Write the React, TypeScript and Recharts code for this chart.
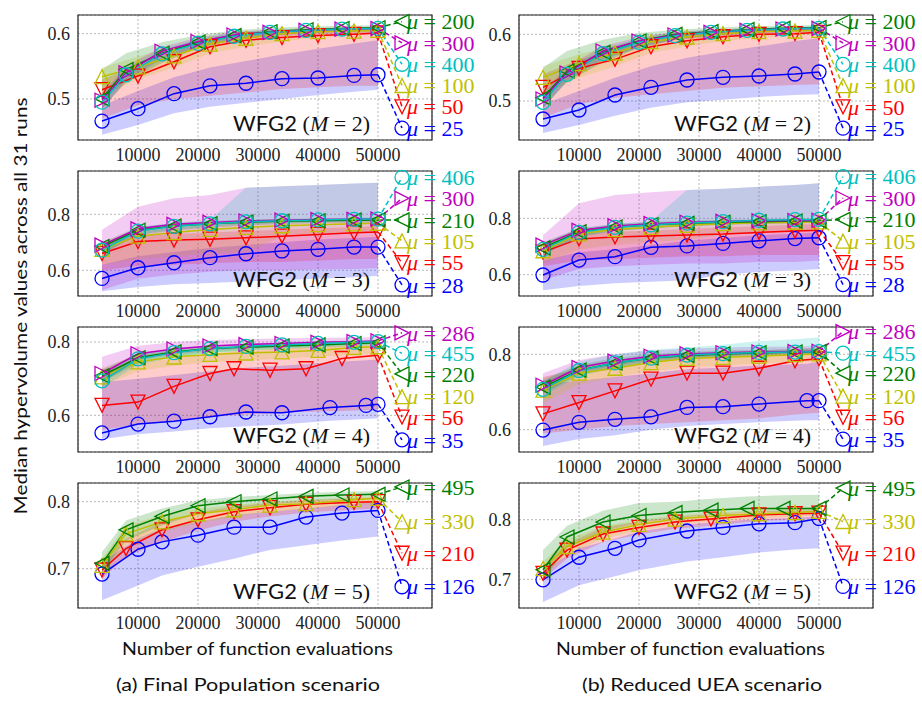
import React from 'react'
import { ComposedChart, Line, Area, XAxis, YAxis, CartesianGrid, ReferenceLine, ReferenceDot, ReferenceArea } from 'recharts'

// x positions of the plotted markers (function evaluations)
const XA = [4000, 10000, 16000, 22000, 28000, 34000, 40000, 46000, 50000]
const XB = [4000, 8000, 14000, 20000, 26000, 32000, 38000, 44000, 50000]
const XC = [4000, 10000, 16000, 22000, 26000, 32000, 38000, 44000, 50000]
const XD = [4000, 10000, 16000, 22000, 28000, 34000, 42000, 48000, 50000]
const XE = [4000, 10000, 16000, 22000, 28000, 34000, 40000, 48000, 50000]
const XF = [4000, 10000, 14000, 20000, 26000, 32000, 38000, 44000, 50000]
const XG = [4000, 8000, 14000, 20000, 26000, 32000, 38000, 46000, 50000]
const XH = [4000, 10000, 16000, 20000, 28000, 34000, 40000, 46000, 50000]
const XI = [4000, 8000, 14000, 20000, 26000, 32000, 40000, 46000, 50000]
const XJ = [4000, 8000, 14000, 20000, 26000, 34000, 40000, 46000, 50000]

const X_TICKS = [10000, 20000, 30000, 40000, 50000]
const LABEL_X = 54000

// series order everywhere: blue, red, yellow, green, magenta, cyan
const COLORS = ['#0000ff', '#ff0000', '#bfbf00', '#008000', '#bf00bf', '#00bfbf']
const MARKERS = ['circle', 'down', 'up', 'left', 'right', 'circle']

// ---- Final Population, M = 2
const fpM2Mu = [25, 50, 100, 200, 300, 400]
const fpM2X = [XA, XA, XA, XB, XB, XB]
const fpM2Med = [
  [0.466, 0.485, 0.508, 0.52, 0.524, 0.531, 0.532, 0.536, 0.537],
  [0.514, 0.535, 0.557, 0.58, 0.59, 0.594, 0.597, 0.599, 0.601],
  [0.534, 0.549, 0.566, 0.584, 0.593, 0.6, 0.603, 0.604, 0.605],
  [0.5, 0.545, 0.57, 0.587, 0.597, 0.603, 0.606, 0.608, 0.609],
  [0.498, 0.54, 0.573, 0.588, 0.598, 0.602, 0.605, 0.607, 0.608],
  [0.495, 0.537, 0.569, 0.585, 0.596, 0.602, 0.605, 0.607, 0.608],
]
const fpM2Lo = [
  [0.445, 0.46, 0.478, 0.488, 0.494, 0.5, 0.506, 0.511, 0.514],
  [0.47, 0.49, 0.5, 0.505, 0.51, 0.515, 0.518, 0.52, 0.52],
  [0.505, 0.53, 0.548, 0.57, 0.58, 0.588, 0.594, 0.597, 0.6],
  [0.485, 0.525, 0.555, 0.578, 0.59, 0.597, 0.601, 0.603, 0.605],
  [0.485, 0.528, 0.562, 0.579, 0.59, 0.595, 0.598, 0.6, 0.601],
  [0.485, 0.528, 0.56, 0.578, 0.59, 0.597, 0.601, 0.603, 0.604],
]
const fpM2Hi = [
  [0.49, 0.512, 0.533, 0.548, 0.558, 0.568, 0.577, 0.585, 0.59],
  [0.53, 0.55, 0.572, 0.59, 0.598, 0.602, 0.605, 0.607, 0.608],
  [0.548, 0.565, 0.58, 0.595, 0.603, 0.607, 0.609, 0.61, 0.611],
  [0.545, 0.57, 0.587, 0.598, 0.605, 0.609, 0.611, 0.612, 0.613],
  [0.508, 0.55, 0.58, 0.594, 0.603, 0.606, 0.608, 0.609, 0.61],
  [0.505, 0.545, 0.576, 0.592, 0.601, 0.606, 0.608, 0.61, 0.611],
]
const fpM2LabelY = [0.4553, 0.4879, 0.5205, 0.6184, 0.5858, 0.5531]

// ---- Reduced UEA, M = 2
const ueaM2Mu = [25, 50, 100, 200, 300, 400]
const ueaM2X = [XA, XA, XA, XB, XB, XB]
const ueaM2Med = [
  [0.473, 0.4865, 0.509, 0.5205, 0.5315, 0.5355, 0.5375, 0.5405, 0.5435],
  [0.5205, 0.549, 0.5625, 0.5814, 0.5904, 0.5964, 0.6, 0.601, 0.603],
  [0.5355, 0.556, 0.572, 0.589, 0.596, 0.601, 0.604, 0.605, 0.606],
  [0.505, 0.545, 0.573, 0.59, 0.6, 0.604, 0.607, 0.609, 0.61],
  [0.503, 0.542, 0.575, 0.59, 0.599, 0.603, 0.606, 0.608, 0.609],
  [0.498, 0.54, 0.571, 0.588, 0.598, 0.603, 0.606, 0.608, 0.609],
]
const ueaM2Lo = [
  [0.452, 0.464, 0.478, 0.49, 0.498, 0.502, 0.506, 0.509, 0.51],
  [0.475, 0.495, 0.505, 0.51, 0.515, 0.52, 0.522, 0.524, 0.525],
  [0.51, 0.535, 0.552, 0.572, 0.582, 0.59, 0.595, 0.598, 0.6],
  [0.49, 0.528, 0.558, 0.58, 0.592, 0.598, 0.602, 0.604, 0.606],
  [0.49, 0.53, 0.563, 0.58, 0.591, 0.596, 0.6, 0.602, 0.603],
  [0.488, 0.53, 0.562, 0.58, 0.592, 0.598, 0.602, 0.604, 0.605],
]
const ueaM2Hi = [
  [0.495, 0.515, 0.535, 0.552, 0.565, 0.574, 0.582, 0.59, 0.594],
  [0.54, 0.562, 0.577, 0.593, 0.6, 0.604, 0.606, 0.607, 0.608],
  [0.552, 0.57, 0.583, 0.598, 0.604, 0.607, 0.609, 0.61, 0.611],
  [0.55, 0.575, 0.592, 0.602, 0.607, 0.61, 0.612, 0.613, 0.614],
  [0.512, 0.552, 0.582, 0.596, 0.604, 0.607, 0.609, 0.61, 0.611],
  [0.508, 0.548, 0.578, 0.594, 0.603, 0.607, 0.609, 0.611, 0.612],
]
const ueaM2LabelY = [0.4592, 0.4912, 0.523, 0.6189, 0.587, 0.555]

// ---- Final Population, M = 3
const fpM3Mu = [28, 55, 105, 210, 300, 406]
const fpM3X = [XA, XA, XA, XA, XA, XA]
const fpM3Med = [
  [0.571, 0.609, 0.627, 0.645, 0.659, 0.669, 0.675, 0.683, 0.683],
  [0.66, 0.703, 0.708, 0.711, 0.716, 0.722, 0.728, 0.734, 0.737],
  [0.675, 0.722, 0.735, 0.746, 0.753, 0.759, 0.763, 0.766, 0.768],
  [0.685, 0.743, 0.758, 0.766, 0.772, 0.775, 0.777, 0.779, 0.78],
  [0.69, 0.748, 0.764, 0.771, 0.776, 0.779, 0.781, 0.782, 0.783],
  [0.672, 0.74, 0.757, 0.766, 0.773, 0.777, 0.78, 0.782, 0.783],
]
const fpM3Lo = [
  [0.525, 0.54, 0.55, 0.555, 0.56, 0.565, 0.57, 0.575, 0.58],
  [0.6, 0.615, 0.62, 0.625, 0.63, 0.63, 0.635, 0.64, 0.64],
  [0.62, 0.64, 0.65, 0.66, 0.665, 0.72, 0.73, 0.735, 0.74],
  [0.66, 0.725, 0.742, 0.752, 0.76, 0.765, 0.768, 0.77, 0.772],
  [0.53, 0.57, 0.585, 0.595, 0.6, 0.6, 0.603, 0.605, 0.607],
  [0.655, 0.728, 0.746, 0.756, 0.764, 0.768, 0.772, 0.775, 0.776],
]
const fpM3Hi = [
  [0.62, 0.65, 0.665, 0.68, 0.69, 0.7, 0.71, 0.715, 0.72],
  [0.69, 0.725, 0.73, 0.735, 0.74, 0.745, 0.75, 0.755, 0.757],
  [0.7, 0.74, 0.752, 0.762, 0.768, 0.772, 0.775, 0.777, 0.778],
  [0.7, 0.755, 0.768, 0.776, 0.781, 0.784, 0.786, 0.788, 0.789],
  [0.745, 0.827, 0.857, 0.869, 0.895, 0.9, 0.905, 0.91, 0.913],
  [0.69, 0.755, 0.77, 0.78, 0.895, 0.9, 0.905, 0.91, 0.913],
]
const fpM3LabelY = [0.548, 0.627, 0.705, 0.78, 0.857, 0.932]

// ---- Reduced UEA, M = 3
const ueaM3Mu = [28, 55, 105, 210, 300, 406]
const ueaM3X = [XA, XA, XA, XA, XA, XA]
const ueaM3Med = [
  [0.599, 0.652, 0.664, 0.697, 0.702, 0.711, 0.72, 0.728, 0.731],
  [0.68, 0.727, 0.734, 0.737, 0.741, 0.744, 0.75, 0.755, 0.758],
  [0.685, 0.745, 0.76, 0.768, 0.775, 0.781, 0.784, 0.786, 0.787],
  [0.695, 0.752, 0.769, 0.777, 0.782, 0.786, 0.788, 0.79, 0.791],
  [0.705, 0.757, 0.773, 0.781, 0.786, 0.789, 0.791, 0.792, 0.793],
  [0.69, 0.75, 0.768, 0.777, 0.783, 0.788, 0.793, 0.795, 0.796],
]
const ueaM3Lo = [
  [0.545, 0.56, 0.57, 0.575, 0.58, 0.6, 0.61, 0.615, 0.62],
  [0.63, 0.65, 0.655, 0.66, 0.665, 0.665, 0.67, 0.67, 0.67],
  [0.64, 0.69, 0.705, 0.715, 0.725, 0.74, 0.75, 0.755, 0.758],
  [0.67, 0.735, 0.755, 0.765, 0.772, 0.777, 0.78, 0.782, 0.784],
  [0.58, 0.62, 0.63, 0.635, 0.64, 0.64, 0.645, 0.645, 0.65],
  [0.67, 0.735, 0.755, 0.765, 0.772, 0.778, 0.782, 0.785, 0.787],
]
const ueaM3Hi = [
  [0.65, 0.68, 0.69, 0.705, 0.72, 0.73, 0.74, 0.745, 0.75],
  [0.71, 0.745, 0.752, 0.757, 0.762, 0.767, 0.772, 0.777, 0.78],
  [0.71, 0.762, 0.775, 0.782, 0.787, 0.792, 0.794, 0.796, 0.797],
  [0.715, 0.765, 0.78, 0.788, 0.792, 0.795, 0.797, 0.799, 0.8],
  [0.74, 0.853, 0.883, 0.892, 0.9, 0.905, 0.912, 0.918, 0.924],
  [0.71, 0.765, 0.78, 0.79, 0.9, 0.905, 0.912, 0.918, 0.924],
]
const ueaM3LabelY = [0.565, 0.643, 0.719, 0.796, 0.872, 0.948]

// ---- Final Population, M = 4
const fpM4Mu = [35, 56, 120, 220, 286, 455]
const fpM4X = [XD, XC, XA, XA, XA, XA]
const fpM4Med = [
  [0.552, 0.576, 0.584, 0.596, 0.609, 0.607, 0.621, 0.627, 0.63],
  [0.627, 0.636, 0.679, 0.714, 0.727, 0.723, 0.727, 0.755, 0.764],
  [0.705, 0.746, 0.759, 0.766, 0.77, 0.773, 0.777, 0.785, 0.787],
  [0.708, 0.757, 0.773, 0.782, 0.786, 0.789, 0.792, 0.796, 0.798],
  [0.714, 0.768, 0.781, 0.789, 0.793, 0.796, 0.799, 0.801, 0.803],
  [0.694, 0.754, 0.771, 0.782, 0.788, 0.792, 0.796, 0.799, 0.801],
]
const fpM4Lo = [
  [0.535, 0.548, 0.556, 0.565, 0.57, 0.575, 0.585, 0.59, 0.592],
  [0.56, 0.575, 0.585, 0.595, 0.6, 0.605, 0.61, 0.612, 0.615],
  [0.68, 0.72, 0.735, 0.745, 0.75, 0.755, 0.76, 0.765, 0.767],
  [0.69, 0.742, 0.76, 0.771, 0.777, 0.781, 0.785, 0.789, 0.791],
  [0.69, 0.75, 0.766, 0.776, 0.782, 0.787, 0.79, 0.793, 0.795],
  [0.675, 0.738, 0.758, 0.77, 0.777, 0.782, 0.787, 0.791, 0.793],
]
const fpM4Hi = [
  [0.69, 0.7, 0.71, 0.72, 0.73, 0.735, 0.745, 0.75, 0.752],
  [0.725, 0.745, 0.755, 0.768, 0.775, 0.78, 0.785, 0.79, 0.792],
  [0.73, 0.765, 0.775, 0.782, 0.786, 0.789, 0.792, 0.795, 0.797],
  [0.725, 0.768, 0.782, 0.79, 0.794, 0.797, 0.8, 0.803, 0.805],
  [0.76, 0.79, 0.8, 0.805, 0.808, 0.81, 0.811, 0.812, 0.813],
  [0.712, 0.766, 0.781, 0.79, 0.795, 0.799, 0.802, 0.805, 0.806],
]
const fpM4LabelY = [0.533, 0.595, 0.651, 0.713, 0.825, 0.769]

// ---- Reduced UEA, M = 4
const ueaM4Mu = [35, 56, 120, 220, 286, 455]
const ueaM4X = [XE, XA, XA, XA, XA, XA]
const ueaM4Med = [
  [0.599, 0.6195, 0.6275, 0.634, 0.659, 0.661, 0.668, 0.677, 0.677],
  [0.642, 0.672, 0.703, 0.734, 0.75, 0.75, 0.763, 0.783, 0.788],
  [0.705, 0.75, 0.763, 0.778, 0.789, 0.792, 0.795, 0.799, 0.801],
  [0.713, 0.758, 0.777, 0.79, 0.797, 0.801, 0.804, 0.806, 0.807],
  [0.718, 0.765, 0.782, 0.795, 0.801, 0.804, 0.806, 0.807, 0.808],
  [0.707, 0.757, 0.777, 0.79, 0.798, 0.802, 0.805, 0.806, 0.807],
]
const ueaM4Lo = [
  [0.557, 0.575, 0.585, 0.6, 0.61, 0.615, 0.62, 0.625, 0.625],
  [0.59, 0.6, 0.61, 0.615, 0.62, 0.625, 0.63, 0.64, 0.645],
  [0.67, 0.72, 0.74, 0.755, 0.765, 0.77, 0.775, 0.78, 0.782],
  [0.695, 0.745, 0.765, 0.78, 0.788, 0.793, 0.797, 0.8, 0.801],
  [0.7, 0.752, 0.77, 0.785, 0.792, 0.796, 0.799, 0.801, 0.802],
  [0.69, 0.742, 0.764, 0.78, 0.789, 0.794, 0.798, 0.8, 0.801],
]
const ueaM4Hi = [
  [0.72, 0.73, 0.74, 0.75, 0.76, 0.765, 0.77, 0.775, 0.78],
  [0.74, 0.76, 0.775, 0.79, 0.8, 0.805, 0.81, 0.815, 0.818],
  [0.735, 0.77, 0.785, 0.795, 0.802, 0.805, 0.808, 0.81, 0.812],
  [0.73, 0.772, 0.79, 0.8, 0.806, 0.81, 0.812, 0.813, 0.814],
  [0.75, 0.785, 0.8, 0.81, 0.815, 0.818, 0.82, 0.821, 0.822],
  [0.73, 0.78, 0.8, 0.812, 0.818, 0.825, 0.835, 0.84, 0.845],
]
const ueaM4LabelY = [0.575, 0.633, 0.689, 0.75, 0.86, 0.803]

// ---- Final Population, M = 5
const fpM5Mu = [126, 210, 330, 495]
const fpM5X = [XF, XG, XG, XB]
const fpM5Med = [
  [0.692, 0.729, 0.74, 0.75, 0.762, 0.762, 0.777, 0.783, 0.787],
  [0.698, 0.73, 0.758, 0.773, 0.785, 0.791, 0.796, 0.799, 0.8],
  [0.705, 0.752, 0.77, 0.782, 0.788, 0.795, 0.797, 0.803, 0.805],
  [0.708, 0.758, 0.778, 0.794, 0.8, 0.804, 0.808, 0.81, 0.811],
]
const fpM5Lo = [
  [0.653, 0.675, 0.69, 0.703, 0.715, 0.728, 0.735, 0.742, 0.748],
  [0.685, 0.718, 0.74, 0.757, 0.77, 0.778, 0.784, 0.788, 0.79],
  [0.69, 0.735, 0.755, 0.768, 0.777, 0.785, 0.789, 0.795, 0.797],
  [0.695, 0.742, 0.765, 0.782, 0.79, 0.796, 0.8, 0.803, 0.805],
]
const fpM5Hi = [
  [0.71, 0.745, 0.76, 0.77, 0.78, 0.785, 0.79, 0.795, 0.8],
  [0.71, 0.745, 0.77, 0.784, 0.793, 0.798, 0.802, 0.805, 0.806],
  [0.715, 0.765, 0.78, 0.79, 0.795, 0.8, 0.803, 0.807, 0.808],
  [0.725, 0.772, 0.79, 0.802, 0.807, 0.81, 0.813, 0.815, 0.816],
]
const fpM5LabelY = [0.673, 0.723, 0.77, 0.822]

// ---- Reduced UEA, M = 5
const ueaM5Mu = [126, 210, 330, 495]
const ueaM5X = [XH, XI, XJ, XB]
const ueaM5Med = [
  [0.699, 0.737, 0.752, 0.766, 0.781, 0.787, 0.793, 0.795, 0.802],
  [0.71, 0.749, 0.776, 0.787, 0.796, 0.801, 0.808, 0.81, 0.811],
  [0.718, 0.755, 0.779, 0.792, 0.801, 0.807, 0.81, 0.812, 0.814],
  [0.716, 0.771, 0.796, 0.807, 0.812, 0.816, 0.819, 0.819, 0.819],
]
const ueaM5Lo = [
  [0.662, 0.69, 0.705, 0.715, 0.73, 0.737, 0.745, 0.75, 0.752],
  [0.7, 0.735, 0.762, 0.775, 0.785, 0.79, 0.798, 0.8, 0.802],
  [0.705, 0.742, 0.768, 0.782, 0.792, 0.799, 0.803, 0.805, 0.807],
  [0.7, 0.752, 0.78, 0.795, 0.803, 0.808, 0.812, 0.813, 0.814],
]
const ueaM5Hi = [
  [0.715, 0.752, 0.768, 0.78, 0.792, 0.797, 0.801, 0.803, 0.806],
  [0.722, 0.76, 0.787, 0.797, 0.805, 0.809, 0.814, 0.815, 0.816],
  [0.73, 0.767, 0.789, 0.8, 0.808, 0.813, 0.816, 0.818, 0.819],
  [0.749, 0.79, 0.815, 0.828, 0.83, 0.835, 0.839, 0.841, 0.842],
]
const ueaM5LabelY = [0.688, 0.744, 0.797, 0.853]

const PLOT_W = 354
const PLOT_H = 125
const SERIF = '"Liberation Serif", "Times New Roman", serif'
const SANS = 'Lato, "Liberation Sans", sans-serif'

function markerShape(kind: string, cx: number, cy: number, color: string) {
  const s = 7
  if (kind === 'circle') {
    return <circle cx={cx} cy={cy} r={s} fill="none" stroke={color} strokeWidth={1.3} />
  }
  let pts = ''
  if (kind === 'down') pts = `${cx - s},${cy - s} ${cx + s},${cy - s} ${cx},${cy + s}`
  if (kind === 'up') pts = `${cx},${cy - s} ${cx - s},${cy + s} ${cx + s},${cy + s}`
  if (kind === 'left') pts = `${cx - s},${cy} ${cx + s},${cy - s} ${cx + s},${cy + s}`
  if (kind === 'right') pts = `${cx + s},${cy} ${cx - s},${cy - s} ${cx - s},${cy + s}`
  return <polygon points={pts} fill="none" stroke={color} strokeWidth={1.3} />
}

type PanelProps = {
  col: number
  plotTop: number
  mu: number[]
  xs: number[][]
  med: number[][]
  lo: number[][]
  hi: number[][]
  labelY: number[]
  yDomain: [number, number]
  yTicks: number[]
}

function Panel(props: PanelProps) {
  const { col, plotTop, mu, xs, med, lo, hi, labelY, yDomain, yTicks } = props
  const chartLeft = col === 0 ? 0 : 460
  const width = col === 0 ? 482 : 462
  const yw = col === 0 ? 78 : 59
  const right = width - yw - PLOT_W

  const series = med.map((ys, i) => ({
    color: COLORS[i],
    marker: MARKERS[i],
    points: ys.map((y, j) => ({ x: xs[i][j], y })),
    band: ys.map((_, j) => ({ x: xs[i][j], band: [lo[i][j], hi[i][j]] })),
    last: ys[ys.length - 1],
  }))

  return (
    <div style={{ position: 'absolute', left: chartLeft, top: plotTop - 10 }}>
      <ComposedChart
        width={width}
        height={PLOT_H + 40}
        margin={{ top: 10, right, bottom: 0, left: 0 }}
        style={{ overflow: 'visible' }}
      >
        <CartesianGrid stroke="#b0b0b0" strokeDasharray="2 2" strokeWidth={0.9} />
        <XAxis
          type="number"
          dataKey="x"
          domain={[0, 59000]}
          ticks={X_TICKS}
          interval={0}
          allowDataOverflow
          axisLine={false}
          tickLine={false}
          height={30}
          tick={{ fill: '#222', fontSize: 18, fontFamily: SERIF }}
        />
        <YAxis
          type="number"
          domain={yDomain}
          ticks={yTicks}
          interval={0}
          allowDataOverflow
          width={yw}
          axisLine={false}
          tickLine={false}
          tickFormatter={(v: number) => v.toFixed(1)}
          tick={{ fill: '#222', fontSize: 18, fontFamily: SERIF }}
        />
        {series.map((s, i) => (
          <Area
            key={`band${i}`}
            data={s.band}
            dataKey="band"
            type="linear"
            stroke="none"
            fill={s.color}
            fillOpacity={0.2}
            isAnimationActive={false}
          />
        ))}
        {series.map((s, i) => (
          <Line
            key={`line${i}`}
            data={s.points}
            dataKey="y"
            type="linear"
            stroke={s.color}
            strokeWidth={1.5}
            activeDot={false}
            isAnimationActive={false}
            dot={(p: any) => <g key={`m${i}-${p.index}`}>{markerShape(s.marker, p.cx, p.cy, s.color)}</g>}
          />
        ))}
        {series.map((s, i) => (
          <ReferenceLine
            key={`conn${i}`}
            segment={[{ x: 50000, y: s.last }, { x: LABEL_X, y: labelY[i] }]}
            stroke={s.color}
            strokeWidth={1.5}
            strokeDasharray="5 3"
            ifOverflow="visible"
          />
        ))}
        {series.map((s, i) => (
          <ReferenceDot
            key={`lab${i}`}
            x={LABEL_X}
            y={labelY[i]}
            ifOverflow="visible"
            shape={(p: any) => (
              <g>
                {markerShape(s.marker, p.cx, p.cy, s.color)}
                <text x={p.cx + 5} y={p.cy} dy="0.35em" fill={s.color} fontSize={22} fontFamily={SERIF}>
                  <tspan fontStyle="italic">μ</tspan> = {mu[i]}
                </text>
              </g>
            )}
          />
        ))}
        <ReferenceArea
          x1={0}
          x2={59000}
          y1={yDomain[0]}
          y2={yDomain[1]}
          fill="none"
          stroke="#222"
          strokeWidth={1.2}
          ifOverflow="visible"
        />
      </ComposedChart>
    </div>
  )
}

const ROW_TOPS = [15, 171, 327, 483]
const ROW_M = [2, 3, 4, 5]

function Title({ x, y, m }: { x: number; y: number; m: number }) {
  return (
    <text x={x} y={y} fontSize={22} fill="#111">
      <tspan fontFamily={SANS}>WFG2 </tspan>
      <tspan fontFamily={SERIF}>
        (<tspan fontStyle="italic">M</tspan> = {m})
      </tspan>
    </text>
  )
}

export default function App() {
  return (
    <div style={{ position: 'absolute', left: 0, top: 0, width: 922, height: 702, background: '#fff' }}>
      <Panel col={0} plotTop={ROW_TOPS[0]} mu={fpM2Mu} xs={fpM2X} med={fpM2Med} lo={fpM2Lo} hi={fpM2Hi} labelY={fpM2LabelY} yDomain={[0.437, 0.6286]} yTicks={[0.5, 0.6]} />
      <Panel col={1} plotTop={ROW_TOPS[0]} mu={ueaM2Mu} xs={ueaM2X} med={ueaM2Med} lo={ueaM2Lo} hi={ueaM2Hi} labelY={ueaM2LabelY} yDomain={[0.4415, 0.629]} yTicks={[0.5, 0.6]} />
      <Panel col={0} plotTop={ROW_TOPS[1]} mu={fpM3Mu} xs={fpM3X} med={fpM3Med} lo={fpM3Lo} hi={fpM3Hi} labelY={fpM3LabelY} yDomain={[0.5082, 0.9546]} yTicks={[0.6, 0.8]} />
      <Panel col={1} plotTop={ROW_TOPS[1]} mu={ueaM3Mu} xs={ueaM3X} med={ueaM3Med} lo={ueaM3Lo} hi={ueaM3Hi} labelY={ueaM3LabelY} yDomain={[0.5245, 0.9677]} yTicks={[0.6, 0.8]} />
      <Panel col={0} plotTop={ROW_TOPS[2]} mu={fpM4Mu} xs={fpM4X} med={fpM4Med} lo={fpM4Lo} hi={fpM4Hi} labelY={fpM4LabelY} yDomain={[0.4999, 0.8409]} yTicks={[0.6, 0.8]} />
      <Panel col={1} plotTop={ROW_TOPS[2]} mu={ueaM4Mu} xs={ueaM4X} med={ueaM4Med} lo={ueaM4Lo} hi={ueaM4Hi} labelY={ueaM4LabelY} yDomain={[0.5408, 0.8724]} yTicks={[0.6, 0.8]} />
      <Panel col={0} plotTop={ROW_TOPS[3]} mu={fpM5Mu} xs={fpM5X} med={fpM5Med} lo={fpM5Lo} hi={fpM5Hi} labelY={fpM5LabelY} yDomain={[0.6413, 0.8279]} yTicks={[0.7, 0.8]} />
      <Panel col={1} plotTop={ROW_TOPS[3]} mu={ueaM5Mu} xs={ueaM5X} med={ueaM5Med} lo={ueaM5Lo} hi={ueaM5Hi} labelY={ueaM5LabelY} yDomain={[0.6518, 0.8616]} yTicks={[0.7, 0.8]} />

      <svg width={922} height={702} style={{ position: 'absolute', left: 0, top: 0, pointerEvents: 'none' }}>
        {ROW_TOPS.map((t, r) => (
          <g key={r}>
            <Title x={78 + 155} y={t + 115.5} m={ROW_M[r]} />
            <Title x={519 + 155} y={t + 115.5} m={ROW_M[r]} />
          </g>
        ))}
        <text
          transform="translate(27,306) rotate(-90)"
          textAnchor="middle"
          fontSize={18}
          fontFamily={SANS}
          fill="#111"
          textLength={417}
          lengthAdjust="spacingAndGlyphs"
        >
          Median hypervolume values across all 31 runs
        </text>
        <text x={122} y={655} fontSize={18} fontFamily={SANS} fill="#111" textLength={271} lengthAdjust="spacingAndGlyphs">
          Number of function evaluations
        </text>
        <text x={556} y={655} fontSize={18} fontFamily={SANS} fill="#111" textLength={269} lengthAdjust="spacingAndGlyphs">
          Number of function evaluations
        </text>
        <text x={116} y={691} fontSize={18} fontFamily={SANS} fill="#111" textLength={264} lengthAdjust="spacingAndGlyphs">
          (a) Final Population scenario
        </text>
        <text x={582} y={691} fontSize={18} fontFamily={SANS} fill="#111" textLength={240} lengthAdjust="spacingAndGlyphs">
          (b) Reduced UEA scenario
        </text>
      </svg>
    </div>
  )
}
